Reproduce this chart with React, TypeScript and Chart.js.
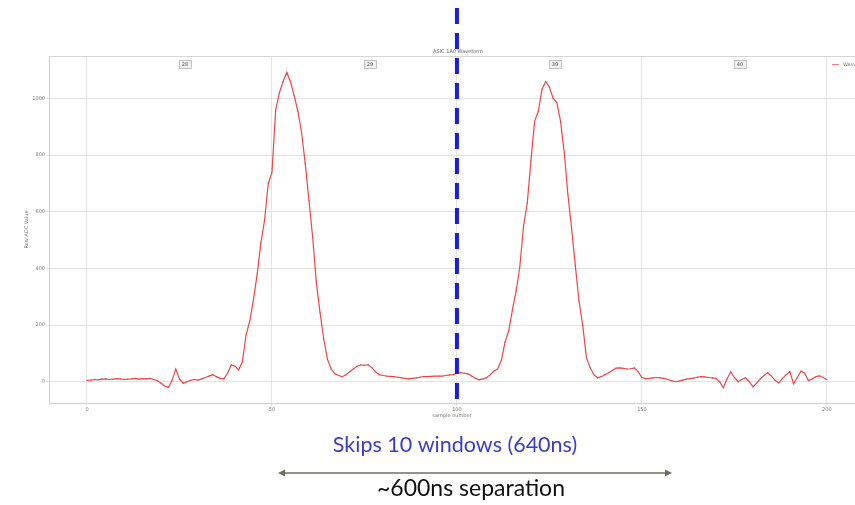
import React, { useEffect, useRef } from 'react';
import { Chart, registerables } from 'chart.js';

Chart.register(...registerables);

// ---- data ----
const sampleValues: number[] = [
  5, 6, 8, 7, 9, 10, 8, 9, 11, 10,
  8, 9, 10, 12, 9, 11, 10, 12, 8, 4,
  -5, -15, -20, 5, 45, 10, -5, 0, 5, 8,
  6, 10, 15, 20, 25, 18, 12, 10, 30, 60,
  55, 42, 71, 165, 215, 290, 380, 490, 570, 700,
  740, 960, 1020, 1060, 1092, 1060, 1010, 955, 880, 770,
  640, 510, 350, 244, 150, 80, 45, 28, 22, 18,
  25, 35, 45, 55, 60, 58, 60, 50, 35, 25,
  22, 20, 19, 18, 16, 14, 12, 10, 12, 14,
  16, 18, 18, 19, 20, 20, 20, 22, 24, 25,
  30, 32, 30, 28, 20, 12, 7, 10, 14, 25,
  38, 45, 75, 140, 180, 255, 320, 406, 550, 630,
  780, 920, 955, 1032, 1060, 1040, 1000, 986, 920, 810,
  660, 540, 410, 285, 200, 85, 50, 25, 14, 18,
  25, 32, 40, 48, 49, 47, 45, 46, 49, 35,
  15, 11, 12, 14, 15, 14, 12, 8, 4, 0,
  2, 6, 9, 11, 13, 16, 18, 17, 15, 14,
  12, 0, -21, 10, 35, 15, 0, 8, 14, 0,
  -18, -5, 10, 22, 32, 20, 5, -4, 12, 25,
  35, -7, 15, 38, 30, 4, 10, 18, 21, 15,
  7,
];
const xTickValues: number[] = [0, 50, 100, 150, 200];
const yTickValues: number[] = [0, 200, 400, 600, 800, 1000];
const windowStarts: number[] = [0, 50, 100, 150];
const windowLabels: string[] = ['28', '29', '39', '40'];
const markerSample = 100;
const chartTitle = 'ASIC 1A0 Waveform';
const seriesName = 'Waveform';
const xTitle = 'sample number';
const yTitle = 'Raw ADC Value';
const skipText = 'Skips 10 windows (640ns)';
const sepText = '~600ns separation';

const overlay = {
  id: 'overlay',
  afterDraw(chart: any) {
    const { ctx, chartArea, scales } = chart;
    const x = scales.x;
    ctx.save();
    // top border of plot
    ctx.strokeStyle = '#d6d6d6';
    ctx.lineWidth = 1;
    ctx.beginPath();
    ctx.moveTo(chartArea.left, chartArea.top + 0.5);
    ctx.lineTo(855, chartArea.top + 0.5);
    ctx.stroke();

    // title
    ctx.fillStyle = '#666';
    ctx.font = '5px "DejaVu Sans"';
    ctx.textAlign = 'center';
    ctx.textBaseline = 'middle';
    ctx.fillText(chartTitle, 458, 52);

    // window labels
    windowStarts.forEach((s, i) => {
      const cx = x.getPixelForValue(s + 26.5);
      const w = 12;
      const h = 8;
      ctx.fillStyle = '#f0f0f0';
      ctx.fillRect(cx - w / 2, 60, w, h);
      ctx.strokeStyle = '#b5b5b5';
      ctx.lineWidth = 0.8;
      ctx.strokeRect(cx - w / 2 + 0.5, 60.5, w, h);
      ctx.fillStyle = '#555';
      ctx.font = '5px "DejaVu Sans"';
      ctx.fillText(windowLabels[i], cx, 64.5);
    });

    // legend
    ctx.strokeStyle = '#f08080';
    ctx.lineWidth = 1;
    ctx.beginPath();
    ctx.moveTo(832, 64.5);
    ctx.lineTo(839, 64.5);
    ctx.stroke();
    ctx.fillStyle = '#777';
    ctx.textAlign = 'left';
    ctx.font = '5px "DejaVu Sans"';
    ctx.fillText(seriesName, 843, 64.5);

    // blue dashed marker
    const mx = x.getPixelForValue(markerSample);
    ctx.strokeStyle = '#1c1ce0';
    ctx.lineWidth = 4;
    ctx.setLineDash([16, 9]);
    ctx.beginPath();
    ctx.moveTo(mx, 8);
    ctx.lineTo(mx, 399);
    ctx.stroke();
    ctx.setLineDash([]);

    // annotations
    ctx.textAlign = 'center';
    ctx.textBaseline = 'middle';
    ctx.fillStyle = '#3b3bd0';
    ctx.font = '21.5px Lato';
    ctx.fillText(skipText, 455, 445);

    const ax1 = 278, ax2 = 672, ay = 473;
    ctx.strokeStyle = '#6b7066';
    ctx.fillStyle = '#6b7066';
    ctx.lineWidth = 1.5;
    ctx.beginPath();
    ctx.moveTo(ax1 + 4, ay);
    ctx.lineTo(ax2 - 4, ay);
    ctx.stroke();
    ctx.beginPath();
    ctx.moveTo(ax1, ay);
    ctx.lineTo(ax1 + 7, ay - 3.5);
    ctx.lineTo(ax1 + 7, ay + 3.5);
    ctx.closePath();
    ctx.fill();
    ctx.beginPath();
    ctx.moveTo(ax2, ay);
    ctx.lineTo(ax2 - 7, ay - 3.5);
    ctx.lineTo(ax2 - 7, ay + 3.5);
    ctx.closePath();
    ctx.fill();

    ctx.fillStyle = '#111';
    ctx.font = '23px Lato';
    ctx.fillText(sepText, 471, 489);
    ctx.restore();
  },
};

export default function App() {
  const ref = useRef<HTMLCanvasElement | null>(null);
  useEffect(() => {
    if (!ref.current) return;
    const tickFont = { family: '"DejaVu Sans"', size: 5 };
    const chart = new Chart(ref.current, {
      type: 'line',
      data: {
        datasets: [
          {
            label: seriesName,
            data: sampleValues.map((v, i) => ({ x: i, y: v })),
            borderColor: '#f04545',
            backgroundColor: '#f04545',
            borderWidth: 1.2,
            pointRadius: 0.6,
            pointBorderWidth: 0,
            tension: 0,
          },
        ],
      },
      options: {
        animation: false,
        responsive: false,
        maintainAspectRatio: false,
        layout: { autoPadding: false, padding: { top: 56, bottom: 85, left: 0, right: 0 } },
        plugins: {
          legend: { display: false },
          title: { display: false },
          tooltip: { enabled: false },
        },
        scales: {
          x: {
            type: 'linear',
            min: -10.27,
            max: 207.6,
            afterFit: (s: any) => { s.height = 17; s.paddingRight = 0; s.paddingLeft = 0; },
            afterBuildTicks: (s: any) => { s.ticks = xTickValues.map((v) => ({ value: v })); },
            ticks: {
              font: tickFont,
              color: '#777',
              padding: 1,
              maxRotation: 0,
              autoSkip: false,
              callback: (v: any) => String(v),
            },
            grid: { color: '#e3e3e3', tickLength: 3 },
            border: { color: '#cfcfcf' },
            title: {
              display: true,
              text: xTitle,
              font: { family: '"DejaVu Sans"', size: 5 },
              color: '#777',
              padding: { top: 0, bottom: 1 },
            },
          },
          y: {
            type: 'linear',
            min: -75,
            max: 1150,
            afterFit: (s: any) => { s.width = 49; s.paddingTop = 0; s.paddingBottom = 0; },
            afterBuildTicks: (s: any) => { s.ticks = yTickValues.map((v) => ({ value: v })); },
            ticks: {
              font: tickFont,
              color: '#777',
              padding: 1,
              autoSkip: false,
              callback: (v: any) => String(v),
            },
            grid: { color: '#e3e3e3', tickLength: 3 },
            border: { color: '#cfcfcf' },
            title: {
              display: true,
              text: yTitle,
              font: { family: '"DejaVu Sans"', size: 5 },
              color: '#777',
              padding: { top: 24, bottom: 0 },
            },
          },
        },
      },
      plugins: [overlay],
    });
    return () => chart.destroy();
  }, []);
  return (
    <div style={{ position: 'absolute', left: 0, top: 0, width: 855, height: 505, background: '#fff' }}>
      <canvas ref={ref} width={855} height={505} style={{ display: 'block' }} />
    </div>
  );
}
